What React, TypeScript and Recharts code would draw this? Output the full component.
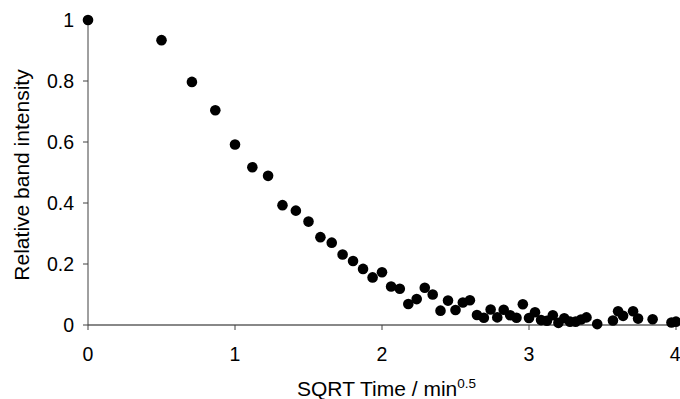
import { ScatterChart, Scatter, XAxis, YAxis, Label } from "recharts";

// sqrt(time) values
const sqrtTime = [
  0, 0.5, 0.707, 0.866, 1.0, 1.118, 1.225, 1.323, 1.414, 1.5, 1.581, 1.658,
  1.732, 1.803, 1.871, 1.936, 2.0, 2.062, 2.121, 2.179, 2.236, 2.291, 2.345,
  2.398, 2.449, 2.5, 2.55, 2.598, 2.646, 2.693, 2.739, 2.784, 2.828, 2.872,
  2.915, 2.958, 3.0, 3.041, 3.082, 3.122, 3.162, 3.2, 3.24, 3.279, 3.317,
  3.354, 3.391, 3.464, 3.571, 3.606, 3.64, 3.708, 3.742, 3.841, 3.969, 4.0,
];

const intensity = [
  1.0, 0.934, 0.797, 0.704, 0.592, 0.517, 0.489, 0.393, 0.375, 0.339, 0.288,
  0.27, 0.231, 0.21, 0.184, 0.156, 0.173, 0.126, 0.119, 0.069, 0.085, 0.122,
  0.1, 0.047, 0.08, 0.049, 0.074, 0.081, 0.033, 0.024, 0.051, 0.025, 0.05,
  0.032, 0.024, 0.068, 0.023, 0.042, 0.016, 0.014, 0.032, 0.007, 0.022,
  0.011, 0.011, 0.018, 0.025, 0.003, 0.015, 0.045, 0.03, 0.045, 0.021, 0.019,
  0.008, 0.011,
];

const xTicks = [0, 1, 2, 3, 4];
const yTicks = [0, 0.2, 0.4, 0.6, 0.8, 1];

const data = sqrtTime.map((x, i) => ({ x, y: intensity[i] }));

const font = "'Liberation Sans', Arial, sans-serif";
const tickStyle = { fontSize: 19.5, fill: "#000", fontFamily: font };

const Dot = (props: any) => <circle cx={props.cx} cy={props.cy} r={5.3} fill="#000" />;

const XTitle = () => (
  <text x={297} y={396} fontFamily={font} fontSize={21} fill="#000">
    SQRT Time / min
    <tspan fontSize={13.5} dy={-8.5}>0.5</tspan>
  </text>
);

const YTitle = () => (
  <text
    transform="translate(29,175) rotate(-90)"
    textAnchor="middle"
    fontFamily={font}
    fontSize={21}
    fill="#000"
  >
    Relative band intensity
  </text>
);

export default function App() {
  return (
    <div style={{ width: 680, height: 399, background: "#fff" }}>
      <style>{"body{margin:0}"}</style>
      <ScatterChart width={680} height={399} margin={{ top: 20, right: 4, bottom: 14, left: 28 }}>
        <XAxis
          type="number"
          dataKey="x"
          domain={[0, 4]}
          ticks={xTicks}
          tick={tickStyle}
          tickSize={5}
          tickMargin={17}
          height={60}
          stroke="#888"
          strokeWidth={2}
          tickLine={{ stroke: "#404040", strokeWidth: 1 }}
        >
          <Label content={<XTitle />} />
        </XAxis>
        <YAxis
          type="number"
          dataKey="y"
          domain={[0, 1]}
          ticks={yTicks}
          tick={tickStyle}
          tickSize={5}
          tickMargin={9}
          width={60}
          stroke="#404040"
        >
          <Label content={<YTitle />} />
        </YAxis>
        <Scatter data={data} shape={<Dot />} isAnimationActive={false} />
      </ScatterChart>
    </div>
  );
}
